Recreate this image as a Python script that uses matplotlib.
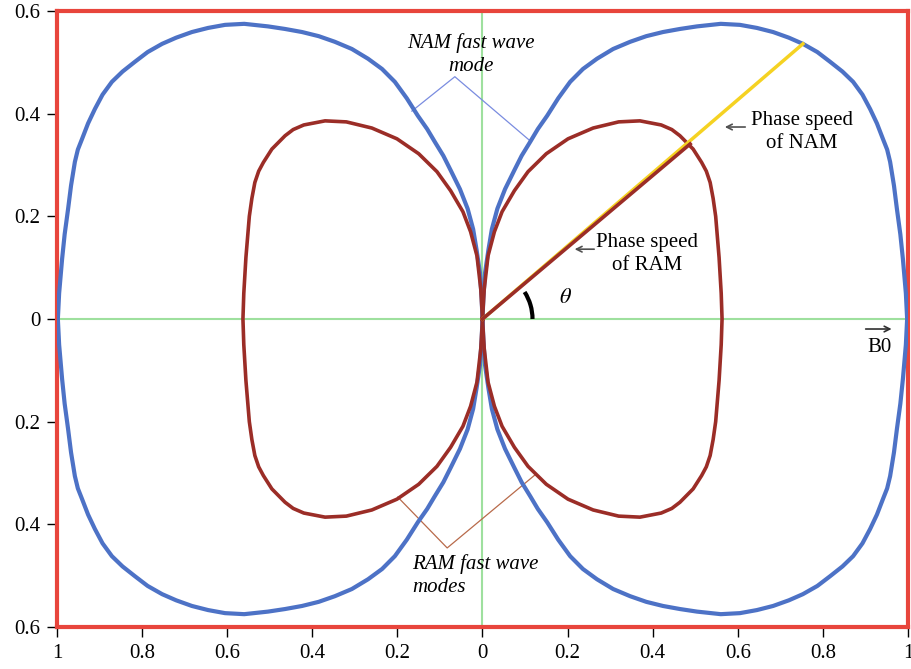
import matplotlib
matplotlib.use("Agg")
import matplotlib.pyplot as plt
from matplotlib.patches import Arc

plt.rcParams['font.family'] = 'serif'
plt.rcParams['font.serif'] = ['Liberation Serif', 'DejaVu Serif']
plt.rcParams['mathtext.fontset'] = 'stix'

# upper right quadrant of the NAM (blue) curve
nam_x = [0.0, 0.002, 0.006, 0.014, 0.022, 0.035, 0.053, 0.075, 0.092, 0.112, 0.13, 0.152,
         0.178, 0.206, 0.236, 0.269, 0.307, 0.347, 0.385, 0.424, 0.464, 0.504, 0.56,
         0.605, 0.645, 0.683, 0.72, 0.753, 0.787, 0.817, 0.846, 0.871, 0.893, 0.911,
         0.927, 0.941, 0.951, 0.958, 0.967, 0.974, 0.982, 0.988, 0.995, 0.998]
nam_y = [0.0, 0.04, 0.09, 0.135, 0.175, 0.215, 0.253, 0.29, 0.318, 0.345, 0.37, 0.396,
         0.43, 0.462, 0.487, 0.507, 0.526, 0.540, 0.551, 0.559, 0.565, 0.570, 0.575,
         0.573, 0.567, 0.559, 0.548, 0.536, 0.52, 0.501, 0.482, 0.462, 0.437, 0.409,
         0.381, 0.351, 0.33, 0.306, 0.26, 0.214, 0.165, 0.117, 0.05, 0.0]

# upper right quadrant of the RAM (red) curve
ram_x = [0.0, 0.004, 0.013, 0.028, 0.046, 0.075, 0.107, 0.15, 0.201, 0.26, 0.32,
         0.37, 0.42, 0.445, 0.464, 0.495, 0.515, 0.526, 0.535, 0.542, 0.548, 0.556,
         0.561, 0.563]
ram_y = [0.0, 0.058, 0.123, 0.17, 0.209, 0.25, 0.287, 0.322, 0.351, 0.372, 0.384,
         0.386, 0.378, 0.369, 0.357, 0.331, 0.305, 0.288, 0.266, 0.235, 0.2, 0.12,
         0.05, 0.0]

# phase speed rays
nam_tip = (0.753, 0.536)
ram_tip = (0.488, 0.341)

xticks = [-1, -0.8, -0.6, -0.4, -0.2, 0, 0.2, 0.4, 0.6, 0.8, 1]
xlabels = ['1', '0.8', '0.6', '0.4', '0.2', '0', '0.2', '0.4', '0.6', '0.8', '1']
yticks = [-0.6, -0.4, -0.2, 0, 0.2, 0.4, 0.6]
ylabels = ['0.6', '0.4', '0.2', '0', '0.2', '0.4', '0.6']

blue = '#4d72c6'
red = '#9b2d27'


def lobes(qx, qy):
    # build right and left lobes from the quadrant by mirroring
    rx = qx + qx[::-1]
    ry = qy + [-v for v in qy[::-1]]
    lx = [-v for v in rx]
    return (rx, ry), (lx, ry)


fig = plt.figure(figsize=(9.12, 6.69), dpi=100)
ax = fig.add_axes([57/912, 42/669, 851/912, 616/669])

ax.axhline(0, color='#9ee09e', lw=1.5, zorder=1)
ax.axvline(0, color='#9ee09e', lw=1.5, zorder=1)

for (x, y) in lobes(nam_x, nam_y):
    ax.plot(x, y, color=blue, lw=3, zorder=3, solid_joinstyle='round')
for (x, y) in lobes(ram_x, ram_y):
    ax.plot(x, y, color=red, lw=2.6, zorder=3, solid_joinstyle='round')

ax.plot([0, nam_tip[0]], [0, nam_tip[1]], color='#f5d222', lw=2.5, zorder=4)
ax.plot([0, ram_tip[0]], [0, ram_tip[1]], color=red, lw=2.6, zorder=5)

# theta arc
ax.add_patch(Arc((0, 0), 2*0.1175, 2*0.0975, theta1=0, theta2=28,
                 color='black', lw=3, zorder=6))
ax.text(0.194, 0.04, r'$\theta$', fontsize=16, ha='center', va='center')

# labels with arrows
arrow = dict(arrowstyle='->', color='#505050', lw=1.2)
ax.annotate('', xy=(0.563, 0.374), xytext=(0.624, 0.374), arrowprops=arrow)
ax.text(0.751, 0.364, 'Phase speed\nof NAM', fontsize=15, ha='center', va='center',
        linespacing=1.25)
ax.annotate('', xy=(0.21, 0.136), xytext=(0.269, 0.136), arrowprops=arrow)
ax.text(0.387, 0.127, 'Phase speed\nof RAM', fontsize=15, ha='center', va='center',
        linespacing=1.25)

ax.annotate('', xy=(0.968, -0.0195), xytext=(0.894, -0.0195),
            arrowprops=dict(arrowstyle='->', color='#303030', lw=1.2))
ax.text(0.934, -0.055, 'B0', fontsize=15, ha='center', va='center')

# mode labels with leader lines
ax.text(-0.027, 0.515, 'NAM fast wave\nmode', fontsize=15, style='italic',
        ha='center', va='center', linespacing=1.3)
ax.plot([-0.166, -0.065, 0.112], [0.405, 0.472, 0.347], color='#7a8ce0', lw=0.9, zorder=2)

ax.text(-0.166, -0.5, 'RAM fast wave\nmodes', fontsize=15, style='italic',
        ha='left', va='center', linespacing=1.3)
ax.plot([-0.199, -0.083, 0.123], [-0.347, -0.446, -0.304], color='#b86a4a', lw=0.9, zorder=2)

ax.set_xlim(-1, 1)
ax.set_ylim(-0.6, 0.6)
ax.set_xticks(xticks)
ax.set_xticklabels(xlabels)
ax.set_yticks(yticks)
ax.set_yticklabels(ylabels)
ax.tick_params(direction='out', length=7, width=1, labelsize=15, pad=5)

for s in ax.spines.values():
    s.set_color('#e8453c')
    s.set_linewidth(3)

fig.savefig('out.png', dpi=100)
